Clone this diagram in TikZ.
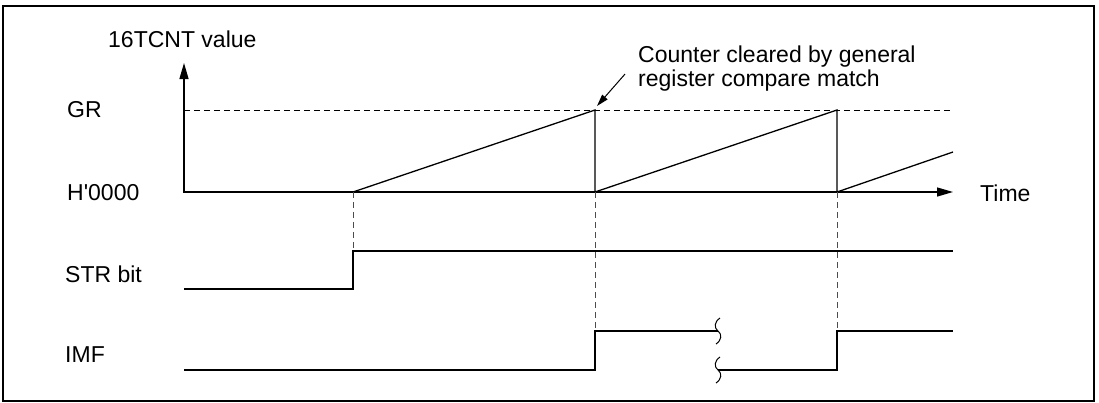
\documentclass[tikz,border=0pt]{standalone}
\usepackage{fontspec}
\newfontfamily\labelfont{Liberation Sans}
\usetikzlibrary{arrows.meta,calc,positioning}

\begin{document}
\begin{tikzpicture}[
    x=1pt, y=-1pt,
    >={Triangle[length=16pt,width=9pt]},
    lbl/.style   = {font=\labelfont\fontsize{23}{26}\selectfont,
                    anchor=base west, inner sep=0pt},
    sig/.style   = {line width=1.3pt},
    guide/.style = {line width=1pt, dash pattern=on 6pt off 4pt},
    brk/.style   = {line width=1pt}
  ]
  \useasboundingbox (0,0) rectangle (1099,402);
  \draw[line width=1.5pt] (3,6) rectangle (1094,401);

  %–––– levels and time marks ––––
  \coordinate (O)     at (184,192);
  \coordinate (Ytop)  at (184,63);
  \coordinate (Xend)  at (953,192);
  \coordinate (GRlvl) at (184,110);
  \coordinate (T1)    at (353,192);
  \coordinate (T2)    at (595,192);
  \coordinate (T3)    at (837,192);
  \coordinate (R3)    at (953,152);
  \coordinate (strLo) at (184,289);
  \coordinate (strHi) at (184,251);
  \coordinate (imfLo) at (184,370);
  \coordinate (imfHi) at (184,331);
  \coordinate (brkA)  at (718,331);
  \coordinate (brkB)  at (718,370);

  %–––– labels ––––
  \node[lbl] (yname)  at (108,47)  {16TCNT value};
  \node[lbl] (grname) at (67,117)  {GR};
  \node[lbl] (zero)   at (67,200)  {H'0000};
  \node[lbl] (tname)  at (980,201) {Time};
  \node[lbl] (str)    at (65,282)  {STR bit};
  \node[lbl] (imf)    at (65,362)  {IMF};

  % note on compare match
  \node[lbl] (note1) at (638,62) {Counter cleared by general};
  \node[lbl] (note2) at ($(note1.base west)+(0,24)$) {register compare match};

  %–––– counter ––––
  \draw[sig,<->] (Ytop) -- (O) -- (Xend);
  \draw[guide] (GRlvl) -- (GRlvl -| Xend);
  \draw[sig] (T1) -- (T2 |- GRlvl) -- (T2) -- (T3 |- GRlvl) -- (T3) -- (R3);

  \draw[->, >={Triangle[length=12pt,width=7pt]}, line width=1pt]
      ($(note2.west)+(-13,-6)$) -- ($(T2 |- GRlvl)+(2,-4)$);

  %–––– STR bit ––––
  \draw[sig] (strLo) -- (T1 |- strLo) -- (T1 |- strHi) -- (Xend |- strHi);

  %–––– IMF ––––
  \draw[sig] (imfLo) -- (T2 |- imfLo) -- (T2 |- imfHi) -- (brkA);
  \draw[sig] (brkB) -- (T3 |- imfLo) -- (T3 |- imfHi) -- (Xend |- imfHi);

  % break marks
  \foreach \c in {brkA,brkB} {
  \draw[brk] ($(\c)+(2,-13)$) .. controls +(-6,4) and +(-4,-3) .. (\c)
             .. controls +(4,3) and +(6,-4) .. ($(\c)+(-2,13)$);
  }

  % dashed timing guides
  \draw[guide, black!70] (T1) -- (T1 |- strHi);
  \foreach \t in {T2,T3} {
  \draw[guide, black!70] (\t) -- (\t |- imfHi);
  }
\end{tikzpicture}
\end{document}
